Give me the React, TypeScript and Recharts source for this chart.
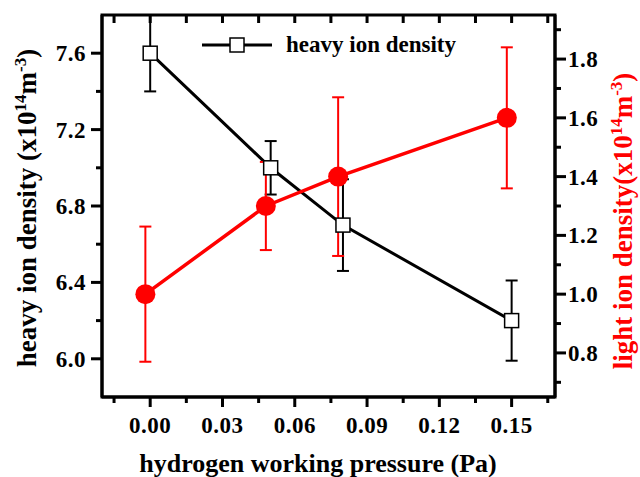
import { ComposedChart, Line, XAxis, YAxis, ErrorBar, Legend, Label } from "recharts";

const serif = "'Liberation Serif', 'Times New Roman', serif";
const red = "#ff0000";

// layout
const CHART_W = 640;
const CHART_H = 477;
const TOP = 15;
const BOTTOM_H = 80;
const LEFT_W = 102;
const RIGHT_W = 85;
const PLOT_W = CHART_W - LEFT_W - RIGHT_W;
const PLOT_H = CHART_H - TOP - BOTTOM_H;

// heavy ion density (left axis), black squares
const heavyPressure = [0, 0.05, 0.08, 0.15];
const heavyDensity = [7.6, 7.0, 6.7, 6.2];
const heavyError = [0.2, 0.14, 0.24, 0.21];

// light ion density (right axis), red circles
const lightPressure = [-0.002, 0.048, 0.078, 0.148];
const lightDensity = [1.0, 1.3, 1.4, 1.6];
const lightError = [0.23, 0.15, 0.27, 0.24];

const xMajor = [0, 0.03, 0.06, 0.09, 0.12, 0.15];
const xMinor = [-0.015, 0.015, 0.045, 0.075, 0.105, 0.135, 0.165];
const leftMajor = [6.0, 6.4, 6.8, 7.2, 7.6];
const leftMinor = [6.2, 6.6, 7.0, 7.4];
const rightMajor = [0.8, 1.0, 1.2, 1.4, 1.6, 1.8];
const rightMinor = [0.7, 0.9, 1.1, 1.3, 1.5, 1.7, 1.9];

const xDomain = [-0.02, 0.168];
const leftDomain = [5.8, 7.8];
const rightDomain = [0.65, 1.95];

const heavyData = heavyPressure.map((p, i) => ({
  pressure: p,
  density: heavyDensity[i],
  err: heavyError[i],
}));
const lightData = lightPressure.map((p, i) => ({
  pressure: p,
  density: lightDensity[i],
  err: lightError[i],
}));

const xTicks = [...xMinor, ...xMajor].sort((a, b) => a - b);
const isMajor = (list: number[], v: number) => list.some((m) => Math.abs(m - v) < 1e-9);

// bottom ticks also draw the matching inward tick on the top frame
const BottomTick = (props: any) => {
  const x = Number(props.x);
  const y = Number(props.y);
  const { payload } = props;
  const major = isMajor(xMajor, payload.value);
  const top = y - PLOT_H;
  return (
    <g>
      <line x1={x} x2={x} y1={y} y2={y + (major ? 10 : 6)} stroke="#000" strokeWidth={3} />
      <rect x={x - 1.5} y={top} width={3} height={8} fill="#000" />
      {major && (
        <text x={x} y={y + 36} textAnchor="middle" fontFamily={serif} fontWeight="bold" fontSize={23} fill="#000" letterSpacing={0.5}>
          {payload.value.toFixed(2)}
        </text>
      )}
    </g>
  );
};

const LeftTick = (props: any) => {
  const { x, y, payload } = props;
  const major = isMajor(leftMajor, payload.value);
  return (
    <g>
      <line x1={x - (major ? 11 : 6)} x2={x} y1={y} y2={y} stroke="#000" strokeWidth={3} />
      {major && (
        <text x={x - 16} y={y + 8} textAnchor="end" fontFamily={serif} fontWeight="bold" fontSize={23} fill="#000" letterSpacing={0.5}>
          {payload.value.toFixed(1)}
        </text>
      )}
    </g>
  );
};

const RightTick = (props: any) => {
  const { x, y, payload } = props;
  const major = isMajor(rightMajor, payload.value);
  return (
    <g>
      <line x1={x} x2={x + (major ? 11 : 6)} y1={y} y2={y} stroke="#000" strokeWidth={3} />
      {major && (
        <text x={x + 13} y={y + 8} textAnchor="start" fontFamily={serif} fontWeight="bold" fontSize={23} fill="#000" letterSpacing={0.5}>
          {payload.value.toFixed(1)}
        </text>
      )}
    </g>
  );
};

const SquareDot = (props: any) => {
  const { cx, cy, index } = props;
  return (
    <rect key={`sq-${index}`} x={cx - 7} y={cy - 7} width={14} height={14} fill="#fff" stroke="#000" strokeWidth={1.5} />
  );
};

const BottomTitle = () => (
  <text x={318} y={472} textAnchor="middle" fontFamily={serif} fontWeight="bold" fontSize={26} fill="#000">
    hydrogen working pressure (Pa)
  </text>
);

// left axis title, plus the plot box outline (gives the top frame)
const LeftTitle = () => (
  <g>
    <rect x={LEFT_W} y={TOP} width={PLOT_W} height={PLOT_H} fill="none" stroke="#000" strokeWidth={3} />
    <text transform="translate(36,208) rotate(-90)" textAnchor="middle" fontFamily={serif} fontWeight="bold" fontSize={27} fill="#000">
      heavy ion density (x10
      <tspan dy={-10} fontSize={17}>14</tspan>
      <tspan dy={10}>m</tspan>
      <tspan dy={-10} fontSize={17}>-3</tspan>
      <tspan dy={10}>)</tspan>
    </text>
  </g>
);

const RightTitle = () => (
  <text transform="translate(632,221) rotate(-90)" textAnchor="middle" fontFamily={serif} fontWeight="bold" fontSize={27} fill={red}>
    light ion density(x10
    <tspan dy={-10} fontSize={17}>14</tspan>
    <tspan dy={10}>m</tspan>
    <tspan dy={-10} fontSize={17}>-3</tspan>
    <tspan dy={10}>)</tspan>
  </text>
);

const renderLegend = (props: any) => {
  const items = (props.payload ?? []).filter((p: any) => p.type !== "none");
  return (
    <div>
      {items.map((item: any) => (
        <div key={item.value} style={{ display: "flex", alignItems: "center" }}>
          <svg width={70} height={16}>
            <line x1={0} x2={70} y1={8} y2={8} stroke="#000" strokeWidth={3} />
            <rect x={28} y={1} width={14} height={14} fill="#fff" stroke="#000" strokeWidth={1.5} />
          </svg>
          <span style={{ marginLeft: 14, fontFamily: serif, fontWeight: "bold", fontSize: 23, color: "#000" }}>
            {item.value}
          </span>
        </div>
      ))}
    </div>
  );
};

export default function App() {
  return (
    <div style={{ position: "absolute", left: 0, top: 0, width: CHART_W, height: CHART_H }}>
      <ComposedChart width={CHART_W} height={CHART_H} margin={{ top: TOP, right: 0, bottom: 0, left: 0 }}>
        <XAxis
          xAxisId="bottom"
          type="number"
          dataKey="pressure"
          domain={xDomain}
          allowDataOverflow
          ticks={xTicks}
          interval={0}
          tickSize={0}
          tickMargin={0}
          tickLine={false}
          tick={<BottomTick />}
          axisLine={{ stroke: "#000", strokeWidth: 3 }}
          height={BOTTOM_H}
        >
          <Label content={BottomTitle} />
        </XAxis>
        <YAxis
          yAxisId="left"
          type="number"
          domain={leftDomain}
          allowDataOverflow
          ticks={[...leftMajor, ...leftMinor].sort((a, b) => a - b)}
          interval={0}
          tickSize={0}
          tickMargin={0}
          tickLine={false}
          tick={<LeftTick />}
          axisLine={{ stroke: "#000", strokeWidth: 3 }}
          width={LEFT_W}
        >
          <Label content={LeftTitle} />
        </YAxis>
        <YAxis
          yAxisId="right"
          orientation="right"
          type="number"
          domain={rightDomain}
          allowDataOverflow
          ticks={[...rightMajor, ...rightMinor].sort((a, b) => a - b)}
          interval={0}
          tickSize={0}
          tickMargin={0}
          tickLine={false}
          tick={<RightTick />}
          axisLine={{ stroke: "#000", strokeWidth: 3 }}
          width={RIGHT_W}
        >
          <Label content={RightTitle} />
        </YAxis>
        <Legend
          layout="vertical"
          align="center"
          verticalAlign="middle"
          wrapperStyle={{ left: 202, top: 32, width: "auto" }}
          content={renderLegend}
        />
        <Line
          name="heavy ion density"
          data={heavyData}
          dataKey="density"
          xAxisId="bottom"
          yAxisId="left"
          stroke="#000"
          strokeWidth={3}
          dot={<SquareDot />}
          activeDot={false}
          isAnimationActive={false}
        >
          <ErrorBar dataKey="err" direction="y" width={6} stroke="#000" strokeWidth={2} isAnimationActive={false} />
        </Line>
        <Line
          name="light ion density"
          data={lightData}
          dataKey="density"
          xAxisId="bottom"
          yAxisId="right"
          stroke={red}
          strokeWidth={3.5}
          dot={{ r: 10, fill: red, stroke: red, strokeWidth: 0 }}
          activeDot={false}
          legendType="none"
          isAnimationActive={false}
        >
          <ErrorBar dataKey="err" direction="y" width={6} stroke={red} strokeWidth={2} isAnimationActive={false} />
        </Line>
      </ComposedChart>
    </div>
  );
}
